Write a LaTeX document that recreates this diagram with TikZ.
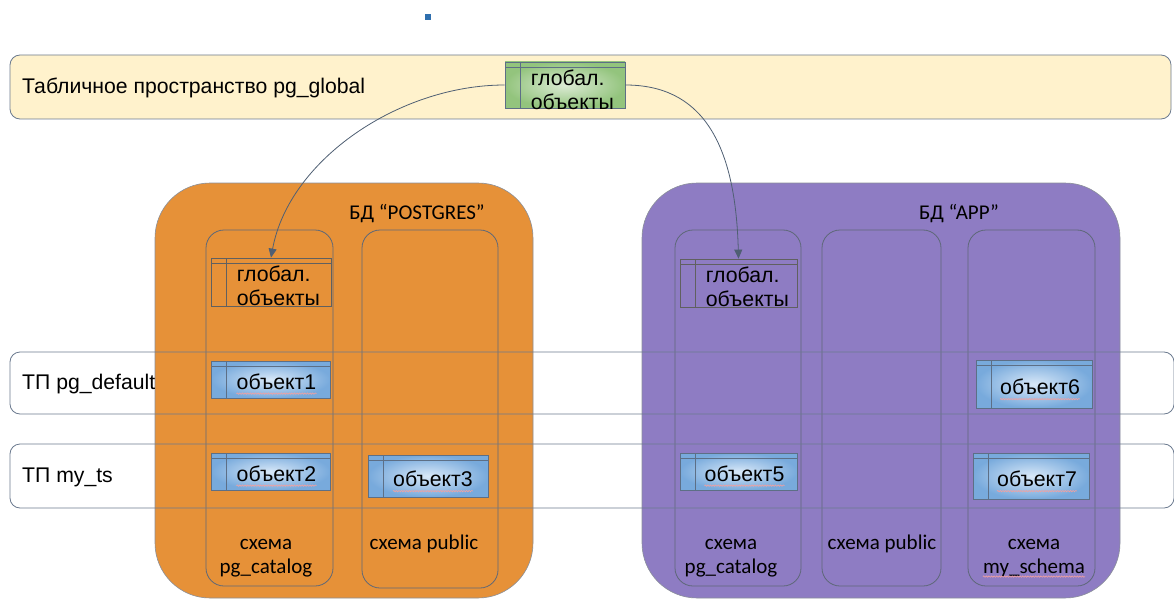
\documentclass[tikz,border=0pt]{standalone}
\usepackage{fontspec}
\setmainfont{Liberation Sans}
\newfontfamily\calfont{Carlito}
\usetikzlibrary{arrows.meta,decorations.pathmorphing}

\definecolor{tsfill}{HTML}{FFF2CC}
\definecolor{tsline}{HTML}{6B7A8F}
\definecolor{dborange}{HTML}{E69138}
\definecolor{dbpurple}{HTML}{8E7CC3}
\definecolor{dbline}{HTML}{8A8F99}
\definecolor{schline}{HTML}{5E6878}
\definecolor{arrowcol}{HTML}{4F5F73}
\definecolor{objline}{HTML}{5D6F86}
\definecolor{objblue}{HTML}{78AADC}
\definecolor{objbluein}{HTML}{D8E8F8}
\definecolor{objgreen}{HTML}{93C47D}
\definecolor{objgreenin}{HTML}{DCEBD5}
\definecolor{squiggle}{HTML}{F2A0A0}
\definecolor{markblue}{HTML}{2F6FAE}

\tikzset{
  tsband/.style={draw=tsline, line width=0.8pt, rounded corners=10pt, inner sep=0pt},
  dbbox/.style={draw=dbline, line width=0.6pt, rounded corners=55pt, inner sep=0pt},
  schemabox/.style={draw=schline, line width=0.8pt, rounded corners=18pt, inner sep=0pt},
  tbl/.style={draw=#1, line width=0.8pt, inner sep=0pt,
    path picture={
      \draw[#1, line width=0.8pt]
        ([yshift=-5.5pt]path picture bounding box.north west) --
        ([yshift=-5.5pt]path picture bounding box.north east);
      \draw[#1, line width=0.8pt]
        ([xshift=15pt]path picture bounding box.north west) --
        ([xshift=15pt]path picture bounding box.south west);
    }},
  blueobj/.style={tbl=objline, inner color=objbluein, outer color=objblue},
  greenobj/.style={tbl=objline, inner color=objgreenin, outer color=objgreen},
  globobj/.style={tbl=gray!75!black},
  objtext/.style={inner sep=0pt, font=\fontsize{21.3}{25}\selectfont},
  globtext/.style={inner sep=0pt, anchor=west, align=left, font=\fontsize{21.3}{24.5}\selectfont},
  bandtext/.style={inner sep=0pt, anchor=west, font=\fontsize{21.2}{25}\selectfont},
  dbtext/.style={inner sep=0pt, font=\calfont\fontsize{21}{25}\selectfont},
  schtext/.style={inner sep=0pt, font=\calfont\fontsize{21}{25}\selectfont},
  squig/.style={draw=squiggle, line width=0.6pt,
    decorate, decoration={snake, amplitude=0.7pt, segment length=2.6pt}},
  link/.style={draw=arrowcol, line width=0.8pt, -{Triangle[length=9pt,width=8pt]}},
}

\begin{document}
\begin{tikzpicture}[x=1pt,y=-1pt]
\useasboundingbox (0,0) rectangle (1174,599);

% small mark above the layout
\node[fill=markblue, minimum size=6pt, inner sep=0pt] (mark) at (428,17) {};

% tablespace pg_global
\node[tsband, fill=tsfill, minimum width=1161pt, minimum height=64pt] (tsglobal) at (590.5,87) {};
\node[greenobj, minimum width=120pt, minimum height=46pt] (g0) at (565,85) {};

% databases
\node[dbbox, fill=dborange, minimum width=378pt, minimum height=415pt] (dbpg) at (344,390.5) {};
\node[dbbox, fill=dbpurple, minimum width=478pt, minimum height=415pt] (dbapp) at (881,390.5) {};

% schemas
\node[schemabox, minimum width=127pt, minimum height=356pt] (s1) at (269.5,408) {};
\node[schemabox, minimum width=136pt, minimum height=358pt] (s2) at (430,409) {};
\node[schemabox, minimum width=126pt, minimum height=356pt] (s3) at (738,408) {};
\node[schemabox, minimum width=119pt, minimum height=356pt] (s4) at (881.5,408) {};
\node[schemabox, minimum width=127pt, minimum height=356pt] (s5) at (1031.5,408) {};

% tablespaces pg_default and my_ts
\node[tsband, minimum width=1164pt, minimum height=62pt] (tsdef) at (592,383) {};
\node[tsband, minimum width=1164pt, minimum height=64pt] (tsmy) at (592,476) {};

% objects
\node[globobj, minimum width=120pt, minimum height=48pt] (g1) at (271,282) {};
\node[globobj, minimum width=117pt, minimum height=48pt] (g2) at (738.5,283) {};
\node[blueobj, minimum width=119pt, minimum height=37pt] (o1) at (270.5,379.5) {};
\node[blueobj, minimum width=119pt, minimum height=37pt] (o2) at (270.5,471.5) {};
\node[blueobj, minimum width=120pt, minimum height=42pt] (o3) at (428,476) {};
\node[blueobj, minimum width=117pt, minimum height=37pt] (o5) at (738.5,471.5) {};
\node[blueobj, minimum width=116pt, minimum height=48pt] (o6) at (1034,384) {};
\node[blueobj, minimum width=116pt, minimum height=46pt] (o7) at (1031,476) {};

% texts
\node[bandtext] (tglobal) at (22,88) {Табличное пространство pg\_global};
\node[bandtext] (tdef) at (22,384) {ТП pg\_default};
\node[bandtext] (tmy) at (22,477) {ТП my\_ts};

\node[dbtext] (tdbpg) at (417,214) {БД “POSTGRES”};
\node[dbtext] (tdbapp) at (959,214) {БД “APP”};

\node[globtext] (tg0) at ([xshift=26pt,yshift=-5pt]g0.west) {глобал.\\объекты};
\node[globtext] (tg1) at ([xshift=26pt,yshift=-4pt]g1.west) {глобал.\\объекты};
\node[globtext] (tg2) at ([xshift=26pt,yshift=-4pt]g2.west) {глобал.\\объекты};

\node[objtext] (to1) at ([xshift=6pt,yshift=-2pt]o1.center) {объект1};
\node[objtext] (to2) at ([xshift=6pt,yshift=-2pt]o2.center) {объект2};
\node[objtext] (to3) at ([xshift=5pt,yshift=-3pt]o3.center) {объект3};
\node[objtext] (to5) at ([xshift=6pt,yshift=-2pt]o5.center) {объект5};
\node[objtext] (to6) at ([xshift=6pt,yshift=-3pt]o6.center) {объект6};
\node[objtext] (to7) at ([xshift=6pt,yshift=-3pt]o7.center) {объект7};

\foreach \t in {to1,to2,to3,to5,to6,to7}
  \draw[squig] ([yshift=-4pt]\t.south west) -- ([yshift=-4pt]\t.south east);

\node[schtext] (ts1a) at (266,544) {схема};
\node[schtext] (ts1b) at (266,568) {pg\_catalog};
\node[schtext] (ts2) at (424,544) {схема public};
\node[schtext] (ts3a) at (731,544) {схема};
\node[schtext] (ts3b) at (731,568) {pg\_catalog};
\node[schtext] (ts4) at (882,544) {схема public};
\node[schtext] (ts5a) at (1034,544) {схема};
\node[schtext] (ts5b) at (1034,568) {my\_schema};
\draw[squig] ([yshift=-3pt]ts5b.base west) -- ([yshift=-3pt]ts5b.base east);

% links from the global objects
\draw[link] (g0.west) .. controls +(-105,0) and +(18,-98) .. (g1.north);
\draw[link] (g0.east) .. controls +(75,0) and +(-3,-118) .. (g2.north);
\end{tikzpicture}
\end{document}
